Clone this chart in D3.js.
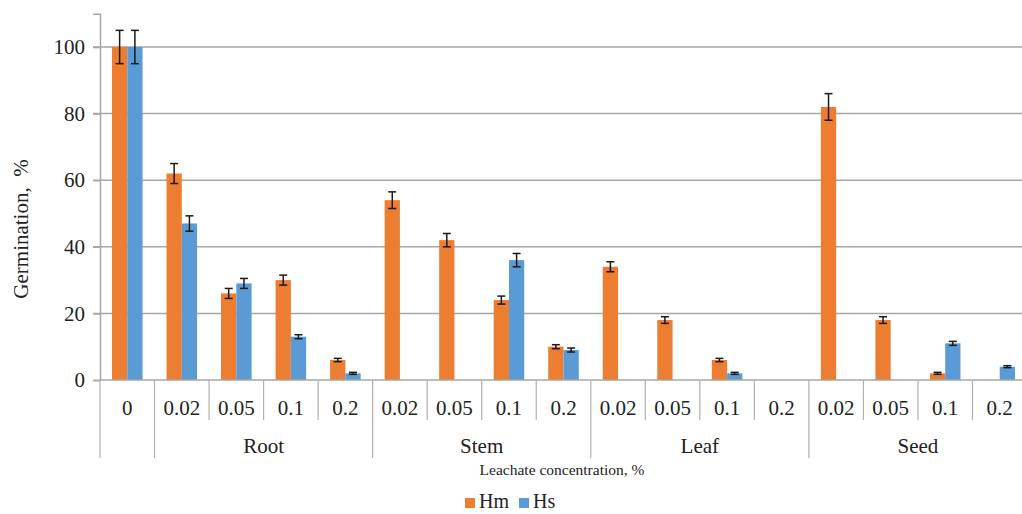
<!DOCTYPE html>
<html><head><meta charset="utf-8">
<script src="https://cdn.jsdelivr.net/npm/d3@7/dist/d3.min.js"></script>
<style>body{margin:0;background:#fff}svg{display:block}text{font-family:"Liberation Serif","Times New Roman",serif;fill:#222}</style>
</head><body><svg id="c" width="1022" height="514"></svg>
<script>
const groups = ["", "Root", "Stem", "Leaf", "Seed"];
const categories = ["0","0.02","0.05","0.1","0.2","0.02","0.05","0.1","0.2","0.02","0.05","0.1","0.2","0.02","0.05","0.1","0.2"];
const categoryGroup = [0,1,1,1,1,2,2,2,2,3,3,3,3,4,4,4,4];
const series = ["Hm","Hs"];
const hmValues = [100,62,26,30,6,54,42,24,10,34,18,6,0,82,18,2,0];
const hmErrors = [5,3,1.5,1.5,0.5,2.5,2,1.2,0.6,1.5,1,0.5,0,4,1,0.3,0];
const hsValues = [100,47,29,13,2,0,0,36,9,0,0,2,0,0,0,11,4];
const hsErrors = [5,2.3,1.5,0.6,0.3,0,0,2,0.6,0,0,0.3,0,0,0,0.6,0.3];
const yTicks = [0,20,40,60,80,100];
const colors = ["#ED7D31","#5B9BD5"];

const svg = d3.select("#c");
const x0 = 100, x1 = 1027, yBase = 380;
const x = d3.scaleBand().domain(d3.range(categories.length)).range([x0, x1]).paddingInner(0).paddingOuter(0);
const y = d3.scaleLinear().domain([0,110]).range([yBase, 13.7]);
const bw = x.bandwidth();
const xs = d3.scaleBand().domain(series).range([0.22*bw, 0.78*bw]);

// gridlines
svg.append("g").selectAll("line").data(yTicks.slice(1)).join("line")
  .attr("x1", x0 - 7).attr("x2", 1022).attr("y1", d=>y(d)).attr("y2", d=>y(d))
  .attr("stroke","#a6a6a6").attr("stroke-width",1.5);
// y axis
const ya = svg.append("g").attr("transform",`translate(${x0},0)`)
  .call(d3.axisLeft(y).tickValues(yTicks).tickSize(7).tickPadding(8));
ya.select(".domain").attr("stroke","#a6a6a6").attr("stroke-width",1.5);
ya.selectAll(".tick line").attr("stroke","#a6a6a6").attr("stroke-width",1.5);
ya.selectAll(".tick text").attr("font-size",21).attr("font-family","Liberation Serif").attr("fill","#222");

// bars
const data = [];
categories.forEach((c,i)=>{
  data.push({i, s:"Hm", v:hmValues[i], e:hmErrors[i], col:colors[0]});
  data.push({i, s:"Hs", v:hsValues[i], e:hsErrors[i], col:colors[1]});
});
svg.append("g").selectAll("rect").data(data.filter(d=>d.v>0)).join("rect")
  .attr("x", d=>x(d.i)+xs(d.s)).attr("width", xs.bandwidth())
  .attr("y", d=>y(d.v)).attr("height", d=>y(0)-y(d.v)).attr("fill", d=>d.col);
// error bars
const eg = svg.append("g").attr("stroke","#1a1a1a").attr("stroke-width",1.5);
data.filter(d=>d.v>0).forEach(d=>{
  const cx = x(d.i)+xs(d.s)+xs.bandwidth()/2;
  eg.append("line").attr("x1",cx).attr("x2",cx).attr("y1",y(d.v+d.e)).attr("y2",y(d.v-d.e));
  eg.append("line").attr("x1",cx-4).attr("x2",cx+4).attr("y1",y(d.v+d.e)).attr("y2",y(d.v+d.e));
  eg.append("line").attr("x1",cx-4).attr("x2",cx+4).attr("y1",y(d.v-d.e)).attr("y2",y(d.v-d.e));
});

// x axis baseline
svg.append("line").attr("x1",x0).attr("x2",1022).attr("y1",yBase).attr("y2",yBase)
  .attr("stroke","#a6a6a6").attr("stroke-width",1.5);
// separators
const ax = svg.append("g").attr("stroke","#b0b0b0").attr("stroke-width",1.2);
for (let i=0;i<=categories.length;i++){
  const xp = i<categories.length ? x(i) : x1;
  const isGroupEdge = i===0 || i===categories.length || categoryGroup[i]!==categoryGroup[i-1];
  ax.append("line").attr("x1",xp).attr("x2",xp).attr("y1",yBase).attr("y2", isGroupEdge?458:420);
}
// category labels
svg.append("g").selectAll("text").data(categories).join("text")
  .attr("x",(d,i)=>x(i)+bw/2).attr("y",415).attr("text-anchor","middle").attr("font-size",21).text(d=>d);
// group labels
groups.forEach((g,gi)=>{
  if(!g) return;
  const idx = categoryGroup.map((v,i)=>v===gi?i:-1).filter(v=>v>=0);
  const cx = (x(idx[0]) + x(idx[idx.length-1]) + bw)/2;
  svg.append("text").attr("x",cx).attr("y",453).attr("text-anchor","middle").attr("font-size",21).text(g);
});
// axis titles
svg.append("text").attr("x",562).attr("y",475).attr("text-anchor","middle").attr("font-size",15.5).text("Leachate concentration, %");
svg.append("text").attr("transform","translate(28,229) rotate(-90)").attr("text-anchor","middle").attr("font-size",21)
  .attr("xml:space","preserve").style("white-space","pre").text("Germination,  %");
// legend
const lg = svg.append("g");
const lx = [465, 519];
series.forEach((s,i)=>{
  lg.append("rect").attr("x",lx[i]).attr("y",498).attr("width",10).attr("height",10).attr("fill",colors[i]);
  lg.append("text").attr("x",lx[i]+14).attr("y",508).attr("font-size",20).text(s);
});
</script></body></html>
